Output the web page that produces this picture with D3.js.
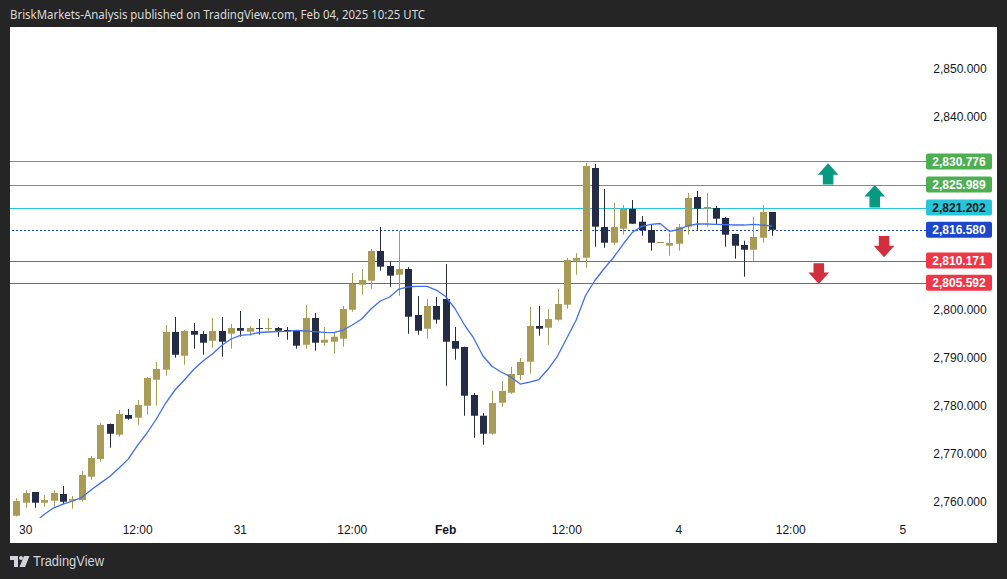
<!DOCTYPE html>
<html>
<head>
<meta charset="utf-8">
<script src="https://cdn.jsdelivr.net/npm/d3@7"></script>
<style>
  html, body { margin: 0; padding: 0; background: #252525; }
  svg { display: block; }
</style>
</head>
<body>
<svg id="chart" width="1007" height="579"></svg>
<script>
// ---------------- DATA ----------------
const titleText = "BriskMarkets-Analysis published on TradingView.com, Feb 04, 2025 10:25 UTC";

const opens = [
2757.15, 2759.85, 2762.08, 2759.85, 2760.27, 2761.66, 2760.27, 2760.41, 2765.26, 2768.93,
2776.21, 2773.99, 2778.08, 2777.52, 2780.01, 2785.42, 2787.50, 2795.33, 2790.41, 2795.54,
2794.92, 2793.52, 2795.54, 2794.98, 2796.16, 2795.40, 2796.16, 2795.96, 2796.16, 2795.75,
2795.54, 2792.69, 2798.24, 2793.11, 2793.32, 2793.94, 2799.97, 2805.16, 2806.00, 2812.17,
2809.05, 2807.24, 2808.43, 2798.87, 2796.02, 2800.74, 2802.19, 2793.46, 2792.21, 2782.24,
2777.93, 2774.19, 2780.64, 2782.72, 2786.39, 2789.16, 2796.58, 2796.23, 2797.89, 2801.01,
2810.15, 2810.78, 2829.42, 2817.16, 2813.89, 2816.80, 2820.90, 2818.26, 2816.53, 2813.95,
2813.27, 2813.69, 2817.22, 2823.39, 2820.96, 2821.11, 2819.03, 2815.70, 2813.42, 2812.44,
2814.93, 2820.28];

const highs = [
2760.77, 2762.43, 2762.10, 2761.45, 2762.43, 2763.32, 2761.24, 2766.44, 2769.56, 2776.42,
2776.30, 2779.12, 2779.33, 2781.20, 2785.98, 2789.10, 2796.79, 2798.45, 2795.75, 2797.20,
2795.54, 2798.24, 2798.45, 2797.00, 2799.70, 2796.58, 2798.03, 2798.24, 2796.37, 2796.37,
2795.75, 2800.94, 2799.28, 2796.37, 2795.19, 2800.74, 2807.60, 2808.43, 2812.59, 2817.16,
2810.09, 2816.33, 2808.84, 2802.82, 2802.19, 2802.61, 2809.47, 2796.37, 2792.30, 2782.65,
2778.50, 2783.07, 2785.15, 2788.06, 2789.93, 2800.53, 2800.74, 2800.11, 2804.27, 2810.71,
2811.75, 2830.46, 2830.25, 2825.06, 2822.15, 2821.73, 2822.77, 2819.44, 2817.64, 2814.10,
2815.97, 2817.78, 2824.23, 2824.64, 2824.23, 2821.52, 2819.24, 2815.76, 2814.31, 2819.24,
2821.73, 2820.30];

const lows = [
2757.00, 2758.81, 2758.81, 2759.02, 2759.02, 2759.58, 2758.60, 2760.06, 2764.63, 2768.37,
2771.28, 2773.57, 2777.10, 2776.06, 2778.14, 2780.01, 2786.25, 2789.99, 2788.54, 2791.86,
2790.61, 2792.07, 2790.20, 2791.86, 2794.36, 2794.56, 2794.77, 2795.60, 2794.36, 2793.73,
2791.86, 2791.86, 2791.45, 2792.49, 2790.82, 2792.28, 2799.55, 2803.09, 2804.33, 2808.07,
2804.75, 2802.88, 2794.98, 2794.77, 2793.94, 2797.06, 2784.17, 2789.58, 2777.93, 2773.36,
2771.91, 2773.99, 2779.81, 2782.50, 2785.36, 2786.66, 2794.56, 2792.69, 2797.68, 2800.18,
2807.24, 2808.70, 2813.06, 2812.86, 2813.48, 2815.56, 2817.80, 2815.35, 2812.23, 2813.90,
2811.19, 2812.23, 2815.56, 2816.60, 2817.22, 2817.64, 2813.06, 2810.57, 2806.83, 2810.15,
2813.89, 2815.35];

const closes = [
2760.20, 2761.87, 2759.85, 2760.41, 2761.87, 2760.06, 2760.62, 2765.61, 2769.14, 2776.00,
2774.19, 2778.29, 2777.31, 2780.16, 2785.77, 2787.64, 2795.33, 2790.61, 2795.54, 2794.77,
2793.11, 2795.54, 2793.32, 2796.16, 2795.60, 2796.16, 2796.02, 2796.16, 2795.60, 2795.48,
2792.49, 2798.24, 2793.11, 2793.73, 2794.36, 2800.11, 2805.31, 2806.14, 2812.17, 2808.91,
2807.04, 2808.43, 2798.51, 2795.60, 2800.74, 2797.89, 2793.32, 2791.86, 2782.09, 2777.93,
2774.19, 2780.57, 2783.07, 2786.60, 2789.10, 2796.58, 2796.02, 2798.03, 2801.15, 2810.30,
2810.71, 2829.84, 2817.22, 2813.89, 2817.16, 2820.90, 2817.84, 2816.47, 2813.89, 2814.04,
2813.83, 2817.16, 2823.19, 2820.96, 2821.32, 2818.88, 2815.56, 2813.27, 2812.44, 2815.08,
2820.28, 2816.58];

// moving average line
const maValues = [null, null, 2755.80, 2757.46, 2758.79, 2759.54, 2760.16, 2760.97, 2762.49, 2763.92,
2765.30, 2767.08, 2768.96, 2771.84, 2774.34, 2777.25, 2780.57, 2783.28, 2785.36, 2787.54,
2789.30, 2790.76, 2792.53, 2793.88, 2794.65, 2794.81, 2795.23, 2795.33, 2795.40, 2795.48,
2795.69, 2795.54, 2795.40, 2795.27, 2795.19, 2795.75, 2796.79, 2798.03, 2800.11, 2801.78,
2802.61, 2804.27, 2804.73, 2804.83, 2804.83, 2804.06, 2802.71, 2800.22, 2796.89, 2794.09,
2790.34, 2788.16, 2786.96, 2785.98, 2784.52, 2784.94, 2785.46, 2787.64, 2790.34, 2794.09,
2797.83, 2802.92, 2806.04, 2808.53, 2810.82, 2813.52, 2816.01, 2817.26, 2817.72, 2817.89,
2816.26, 2816.64, 2817.43, 2817.78, 2817.78, 2817.72, 2817.64, 2817.57, 2817.57, 2817.72,
2817.57, 2817.37];

// time axis ticks: bar index + label
const xTickBars   = [1, 13, 24, 36, 46, 59, 71, 83, 95];
const xTickLabels = ["30", "12:00", "31", "12:00", "Feb", "12:00", "4", "12:00", "5"];
const xTickMonth  = [false, false, false, false, true, false, false, false, false];

// price axis ticks (visible ones)
const yTickValues = [2760, 2770, 2780, 2790, 2800, 2840, 2850];

// horizontal levels
const levelValues = [2830.776, 2825.989, 2821.202, 2816.580, 2810.171, 2805.592];
const levelKinds  = ["resistance", "resistance", "pivot", "last", "support", "support"];

// arrows (bar position, from price, to price)
const arrowBars = [87, 92, 93, 86];
const arrowFrom = [2825.99, 2821.20, 2815.30, 2809.60];
const arrowTo   = [2830.40, 2825.90, 2810.86, 2805.31];

// ---------------- STYLE ----------------
const bullColor = "#a89b55", bearColor = "#232b45";
const levelStyle = {
  resistance: { line: "#4caf50", bg: "#4caf50", text: "#ffffff", dotted: false },
  pivot:      { line: "#26c6da", bg: "#26c6da", text: "#131722", dotted: false },
  last:       { line: "#1c46cc", bg: "#1c46cc", text: "#ffffff", dotted: true },
  support:    { line: "#f23645", bg: "#f23645", text: "#ffffff", dotted: false }
};
const upArrowColor = "#089981", downArrowColor = "#d12f3e";
const fontAxis = "'Liberation Sans', Arial, sans-serif";

// ---------------- LAYOUT ----------------
const svg = d3.select("#chart");
const panel = { x: 10, y: 27, w: 987, h: 516 };
const paneBottom = 518;

const x = d3.scaleLinear().domain([0, 95]).range([16.4, 16.4 + 95 * 9.33]);
const y = d3.scaleLinear().domain([2760, 2850]).range([502, 69]);

svg.append("rect").attr("width", 1007).attr("height", 579).attr("fill", "#252525");
svg.append("rect").attr("x", panel.x).attr("y", panel.y).attr("width", panel.w).attr("height", panel.h).attr("fill", "#ffffff");

svg.append("text").attr("x", 10).attr("y", 19)
  .attr("font-family", "'Noto Sans', 'Open Sans', sans-serif").attr("font-size", 13)
  .attr("fill", "#dadada").attr("textLength", 415).attr("lengthAdjust", "spacingAndGlyphs")
  .text(titleText);

const defs = svg.append("defs");
defs.append("clipPath").attr("id", "pane").append("rect")
  .attr("x", panel.x).attr("y", panel.y).attr("width", 916).attr("height", paneBottom - panel.y);
const pat = defs.append("pattern").attr("id", "dots").attr("patternUnits", "userSpaceOnUse")
  .attr("width", 4).attr("height", 4);
pat.append("rect").attr("width", 2).attr("height", 4).attr("fill", levelStyle.last.line);

const levels = levelValues.map((v, i) => ({ v, st: levelStyle[levelKinds[i]] }));

// level lines (1px solid rows)
const gLines = svg.append("g");
gLines.selectAll("rect").data(levels).join("rect")
  .attr("x", panel.x).attr("width", 926 - panel.x)
  .attr("y", d => Math.round(y(d.v))).attr("height", 1)
  .attr("fill", d => d.st.dotted ? "url(#dots)" : d.st.line);

// candles
const candles = opens.map((o, i) => ({ i, o, h: highs[i], l: lows[i], c: closes[i] }));
const gC = svg.append("g").attr("clip-path", "url(#pane)");
const cg = gC.selectAll("g.c").data(candles).join("g").attr("class", "c");
cg.append("line")
  .attr("x1", d => Math.round(x(d.i)) + 0.5).attr("x2", d => Math.round(x(d.i)) + 0.5)
  .attr("y1", d => y(d.h)).attr("y2", d => y(d.l))
  .attr("stroke", d => d.c >= d.o ? bullColor : bearColor).attr("stroke-width", 1);
cg.append("rect")
  .attr("x", d => Math.round(x(d.i)) - 3)
  .attr("width", 7)
  .attr("y", d => y(Math.max(d.o, d.c)))
  .attr("height", d => Math.max(1, Math.abs(y(d.o) - y(d.c))))
  .attr("fill", d => d.c >= d.o ? bullColor : bearColor);

// moving average
const maLine = d3.line().defined(d => d != null).x((d, i) => x(i)).y(d => y(d)).curve(d3.curveLinear);
gC.append("path").datum(maValues).attr("d", maLine)
  .attr("fill", "none").attr("stroke", "#3f6ef7").attr("stroke-width", 1.3).attr("stroke-linejoin", "round");

// arrows
const arrows = arrowBars.map((b, i) => ({ b, from: arrowFrom[i], to: arrowTo[i] }));
svg.append("g").selectAll("path").data(arrows).join("path")
  .attr("d", d => {
    const cx = x(d.b), y0 = y(d.from), y1 = y(d.to);
    const dir = y1 < y0 ? -1 : 1;
    const headH = 11.5, hw = 10.3, sw = 5.3;
    const yb = y1 - dir * headH;
    return `M${cx - sw},${y0} L${cx - sw},${yb} L${cx - hw},${yb} L${cx},${y1} L${cx + hw},${yb} L${cx + sw},${yb} L${cx + sw},${y0} Z`;
  })
  .attr("fill", d => d.to > d.from ? upArrowColor : downArrowColor);

// price axis labels
svg.append("g").selectAll("text").data(yTickValues).join("text")
  .attr("x", 960).attr("y", d => y(d)).attr("dy", "0.35em")
  .attr("text-anchor", "middle").attr("font-family", fontAxis).attr("font-size", 12)
  .attr("fill", "#131722").text(d => d3.format(",.3f")(d));

// level labels
const gL = svg.append("g");
gL.selectAll("rect").data(levels).join("rect")
  .attr("x", 926).attr("width", 66).attr("y", d => y(d.v) - 8).attr("height", 16).attr("rx", 2)
  .attr("fill", d => d.st.bg);
gL.selectAll("text").data(levels).join("text")
  .attr("x", 959).attr("y", d => y(d.v)).attr("dy", "0.35em")
  .attr("text-anchor", "middle").attr("font-family", fontAxis).attr("font-size", 12)
  .attr("font-weight", "bold")
  .attr("fill", d => d.st.text).text(d => d3.format(",.3f")(d.v));

// time axis labels
svg.append("g").selectAll("text").data(xTickBars).join("text")
  .attr("x", d => x(d)).attr("y", 534)
  .attr("text-anchor", "middle").attr("font-family", fontAxis).attr("font-size", 12)
  .attr("font-weight", (d, i) => xTickMonth[i] ? "bold" : "normal")
  .attr("fill", "#131722").text((d, i) => xTickLabels[i]);

// TradingView logo
const logo = svg.append("g").attr("fill", "#d1d4dc");
logo.append("path").attr("d", "M10,556 L18,556 L18,567 L14,567 L14,560 L10,560 Z");
logo.append("circle").attr("cx", 21).attr("cy", 558).attr("r", 2);
logo.append("path").attr("d", "M24,556 L29.5,556 L25,567 L19.5,567 Z");
logo.append("text").attr("x", 33).attr("y", 566)
  .attr("font-family", "'Liberation Sans', Arial, sans-serif").attr("font-size", 14)
  .attr("textLength", 71).attr("lengthAdjust", "spacingAndGlyphs")
  .text("TradingView");
</script>
</body>
</html>
